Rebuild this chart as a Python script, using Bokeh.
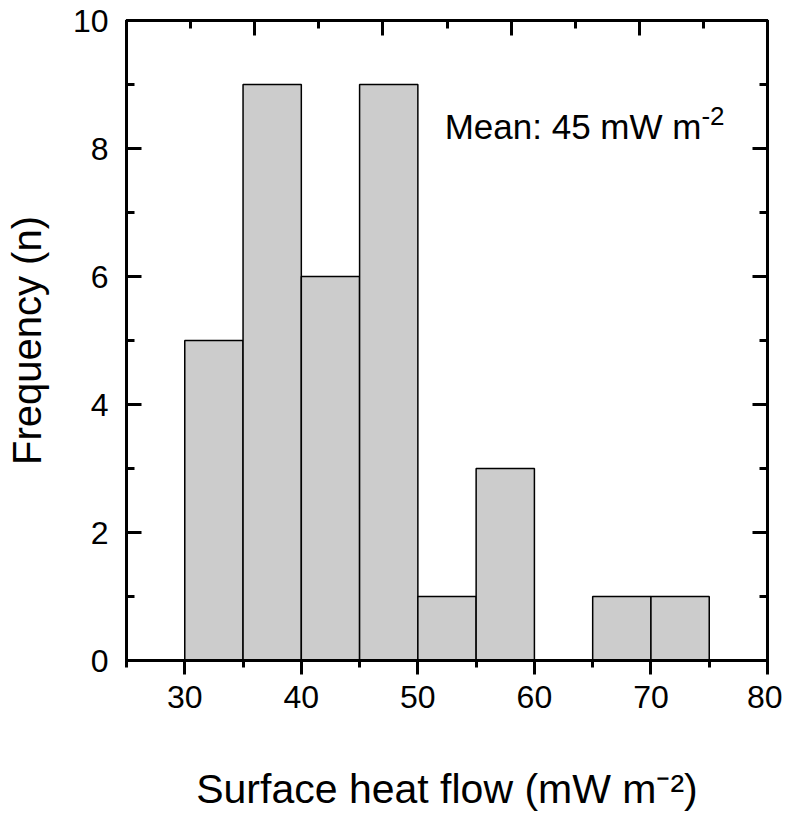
from bokeh.plotting import figure
from bokeh.models import Range1d, LinearAxis, SingleIntervalTicker, Label
from bokeh.embed import file_html
from bokeh.resources import INLINE

# ---- data ----
bin_left = [30, 35, 40, 45, 50, 55, 60, 65, 70]
bin_right = [35, 40, 45, 50, 55, 60, 65, 70, 75]
counts = [5, 9, 6, 9, 1, 3, 0, 1, 1]

x_label = "Surface heat flow (mW m\u207b\u00b2)"
y_label = "Frequency (n)"
mean_text = "Mean: 45 mW m"
mean_sup = "-2"

FONT = "Liberation Sans"

p = figure(width=782, height=814,
           x_range=Range1d(25, 80), y_range=Range1d(0, 10),
           output_backend="svg", toolbar_location=None,
           min_border_left=126, min_border_top=20,
           min_border_right=15, min_border_bottom=151)
p.xgrid.visible = False
p.ygrid.visible = False
p.outline_line_color = "black"
p.outline_line_width = 3
p.background_fill_color = "white"
p.border_fill_color = "white"

p.quad(left=bin_left, right=bin_right, top=counts, bottom=0,
       fill_color="#cccccc", line_color="black", line_width=1.5)

# bottom axis
xa = p.xaxis[0]
xa.ticker = SingleIntervalTicker(interval=10, num_minor_ticks=2)
xa.major_tick_out = 14
xa.major_tick_in = 0
xa.minor_tick_out = 7
xa.minor_tick_in = 0
xa.major_tick_line_width = 3
xa.minor_tick_line_width = 3
xa.axis_line_width = 3
xa.major_label_text_font = FONT
xa.major_label_text_font_size = "32px"
xa.major_label_text_color = "black"
xa.major_label_standoff = 11
xa.axis_label = x_label
xa.axis_label_text_font = FONT
xa.axis_label_text_font_size = "41px"
xa.axis_label_text_font_style = "normal"
xa.axis_label_text_color = "black"
xa.axis_label_standoff = 55

# left axis
ya = p.yaxis[0]
ya.ticker = SingleIntervalTicker(interval=2, num_minor_ticks=2)
ya.major_tick_out = 0
ya.major_tick_in = 15
ya.minor_tick_out = 0
ya.minor_tick_in = 8
ya.major_tick_line_width = 3
ya.minor_tick_line_width = 3
ya.axis_line_width = 3
ya.major_label_text_font = FONT
ya.major_label_text_font_size = "32px"
ya.major_label_text_color = "black"
ya.major_label_standoff = 18
ya.axis_label = y_label
ya.axis_label_text_font = FONT
ya.axis_label_text_font_size = "40px"
ya.axis_label_text_font_style = "normal"
ya.axis_label_text_color = "black"
ya.axis_label_standoff = 21

# right axis (ticks only)
ra = LinearAxis(ticker=SingleIntervalTicker(interval=2, num_minor_ticks=2),
                major_label_overrides={v: "" for v in range(0, 11, 2)},
                major_tick_in=15, major_tick_out=0, minor_tick_in=8, minor_tick_out=0,
                major_tick_line_width=3, minor_tick_line_width=3, axis_line_width=3,
                major_label_standoff=0, major_label_text_font_size="1px")
p.add_layout(ra, "right")

# top axis (ticks only, own 0-10 scale)
p.extra_x_ranges = {"top": Range1d(0, 10)}
ta = LinearAxis(x_range_name="top",
                ticker=SingleIntervalTicker(interval=2, num_minor_ticks=2),
                major_label_overrides={v: "" for v in range(0, 11, 2)},
                major_tick_in=15, major_tick_out=0, minor_tick_in=8, minor_tick_out=0,
                major_tick_line_width=3, minor_tick_line_width=3, axis_line_width=3,
                major_label_standoff=0, major_label_text_font_size="1px")
p.add_layout(ta, "above")

# mean annotation
p.add_layout(Label(x=74.33, y=8.35, text=mean_text, text_align="right",
                   text_baseline="alphabetic", text_font=FONT,
                   text_font_size="35px", text_color="black"))
p.add_layout(Label(x=74.33, y=8.35, y_offset=10, text=mean_sup, text_align="left",
                   text_baseline="alphabetic", text_font=FONT,
                   text_font_size="26px", text_color="black"))

open("out.html", "w").write(file_html(p, INLINE))
